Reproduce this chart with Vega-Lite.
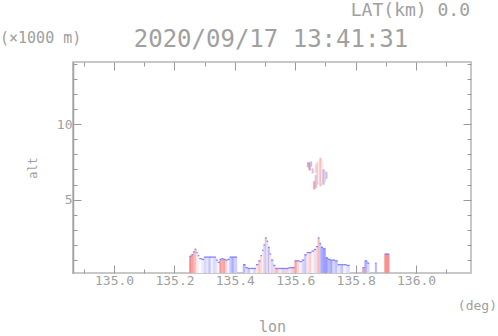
{
  "$schema": "https://vega.github.io/schema/vega-lite/v6.json",
  "width": 398,
  "height": 211,
  "autosize": {"type": "none"},
  "padding": {"left": 73, "top": 62, "right": 27, "bottom": 63},
  "background": "white",
  "config": {
    "view": {"stroke": "#c8c8c8", "strokeWidth": 2},
    "font": "DejaVu Sans Mono",
    "axis": {
      "labelFont": "DejaVu Sans Mono",
      "titleFont": "DejaVu Sans Mono",
      "labelColor": "#a0a0a0",
      "titleColor": "#a0a0a0",
      "tickColor": "#999999",
      "grid": false,
      "domain": false,
      "titleFontWeight": "normal"
    }
  },
  "datasets": {
    "low": [
      {"a": 135.250, "b": 135.256, "t": 1.25, "v": 0.85},
      {"a": 135.256, "b": 135.262, "t": 1.35, "v": 0.7},
      {"a": 135.262, "b": 135.267, "t": 1.55, "v": 0.6},
      {"a": 135.267, "b": 135.272, "t": 1.72, "v": 0.5},
      {"a": 135.272, "b": 135.277, "t": 1.5, "v": 0.2},
      {"a": 135.277, "b": 135.282, "t": 1.3, "v": -0.1},
      {"a": 135.282, "b": 135.290, "t": 1.1, "v": 0.05},
      {"a": 135.290, "b": 135.298, "t": 1.05, "v": -0.15},
      {"a": 135.298, "b": 135.305, "t": 1.2, "v": -0.3},
      {"a": 135.305, "b": 135.313, "t": 1.2, "v": -0.2},
      {"a": 135.313, "b": 135.321, "t": 1.2, "v": -0.4},
      {"a": 135.321, "b": 135.329, "t": 1.2, "v": -0.1},
      {"a": 135.329, "b": 135.337, "t": 1.2, "v": -0.3},
      {"a": 135.337, "b": 135.343, "t": 1.0, "v": -0.2},
      {"a": 135.343, "b": 135.350, "t": 0.85, "v": 0.1},
      {"a": 135.350, "b": 135.356, "t": 1.05, "v": 0.75},
      {"a": 135.356, "b": 135.362, "t": 1.1, "v": 0.55},
      {"a": 135.362, "b": 135.369, "t": 1.05, "v": 0.7},
      {"a": 135.369, "b": 135.376, "t": 1.0, "v": 0.3},
      {"a": 135.376, "b": 135.383, "t": 1.05, "v": -0.1},
      {"a": 135.383, "b": 135.390, "t": 1.2, "v": -0.4},
      {"a": 135.390, "b": 135.397, "t": 1.2, "v": -0.6},
      {"a": 135.397, "b": 135.407, "t": 1.2, "v": -0.35},
      {"a": 135.427, "b": 135.435, "t": 0.7, "v": -0.5},
      {"a": 135.435, "b": 135.443, "t": 0.5, "v": -0.2},
      {"a": 135.443, "b": 135.452, "t": 0.45, "v": -0.4},
      {"a": 135.452, "b": 135.461, "t": 0.45, "v": 0.1},
      {"a": 135.461, "b": 135.470, "t": 0.45, "v": -0.3},
      {"a": 135.470, "b": 135.478, "t": 0.7, "v": 0.2},
      {"a": 135.478, "b": 135.485, "t": 0.95, "v": 0.4},
      {"a": 135.485, "b": 135.490, "t": 1.3, "v": 0.3},
      {"a": 135.490, "b": 135.495, "t": 1.65, "v": 0.1},
      {"a": 135.495, "b": 135.500, "t": 2.0, "v": -0.3},
      {"a": 135.500, "b": 135.505, "t": 2.47, "v": 0.5},
      {"a": 135.505, "b": 135.510, "t": 2.25, "v": -0.2},
      {"a": 135.510, "b": 135.515, "t": 1.85, "v": -0.5},
      {"a": 135.515, "b": 135.520, "t": 1.4, "v": 0.2},
      {"a": 135.520, "b": 135.527, "t": 1.0, "v": -0.3},
      {"a": 135.527, "b": 135.534, "t": 0.65, "v": 0.3},
      {"a": 135.534, "b": 135.545, "t": 0.45, "v": 0.5},
      {"a": 135.545, "b": 135.556, "t": 0.45, "v": 0.2},
      {"a": 135.556, "b": 135.567, "t": 0.45, "v": -0.3},
      {"a": 135.567, "b": 135.578, "t": 0.45, "v": 0.35},
      {"a": 135.578, "b": 135.589, "t": 0.5, "v": -0.2},
      {"a": 135.589, "b": 135.598, "t": 0.5, "v": 0.4},
      {"a": 135.598, "b": 135.606, "t": 0.95, "v": 0.65},
      {"a": 135.606, "b": 135.614, "t": 0.95, "v": 0.3},
      {"a": 135.614, "b": 135.622, "t": 0.9, "v": 0.1},
      {"a": 135.622, "b": 135.630, "t": 1.0, "v": -0.3},
      {"a": 135.630, "b": 135.638, "t": 1.35, "v": -0.4},
      {"a": 135.638, "b": 135.646, "t": 1.5, "v": 0.2},
      {"a": 135.646, "b": 135.654, "t": 1.5, "v": 0.35},
      {"a": 135.654, "b": 135.662, "t": 1.6, "v": 0.1},
      {"a": 135.662, "b": 135.669, "t": 1.7, "v": -0.2},
      {"a": 135.669, "b": 135.675, "t": 1.9, "v": 0.3},
      {"a": 135.675, "b": 135.680, "t": 2.47, "v": 0.5},
      {"a": 135.680, "b": 135.685, "t": 2.1, "v": -0.4},
      {"a": 135.685, "b": 135.692, "t": 1.85, "v": -0.6},
      {"a": 135.692, "b": 135.700, "t": 1.75, "v": -0.7},
      {"a": 135.700, "b": 135.708, "t": 1.15, "v": -0.75},
      {"a": 135.708, "b": 135.716, "t": 1.05, "v": -0.5},
      {"a": 135.716, "b": 135.724, "t": 1.0, "v": -0.65},
      {"a": 135.724, "b": 135.732, "t": 1.0, "v": -0.3},
      {"a": 135.732, "b": 135.740, "t": 0.95, "v": -0.45},
      {"a": 135.740, "b": 135.750, "t": 0.7, "v": -0.2},
      {"a": 135.750, "b": 135.760, "t": 0.7, "v": -0.4},
      {"a": 135.760, "b": 135.770, "t": 0.7, "v": -0.1},
      {"a": 135.770, "b": 135.780, "t": 0.65, "v": -0.25},
      {"a": 135.823, "b": 135.830, "t": 0.5, "v": 0.7},
      {"a": 135.830, "b": 135.838, "t": 0.95, "v": -0.6},
      {"a": 135.838, "b": 135.845, "t": 0.8, "v": -0.3},
      {"a": 135.865, "b": 135.869, "t": 0.8, "v": -0.6},
      {"a": 135.896, "b": 135.911, "t": 1.4, "v": 0.8}
    ],
    "up": [
      {"a": 135.640, "b": 135.645, "z0": 7.15, "z1": 7.45, "v": -0.6},
      {"a": 135.645, "b": 135.650, "z0": 6.95, "z1": 7.45, "v": 0.8},
      {"a": 135.650, "b": 135.655, "z0": 7.2, "z1": 7.5, "v": -0.5},
      {"a": 135.655, "b": 135.660, "z0": 6.75, "z1": 7.05, "v": -0.4},
      {"a": 135.660, "b": 135.666, "z0": 5.7, "z1": 6.2, "v": 0.7},
      {"a": 135.666, "b": 135.671, "z0": 5.8, "z1": 6.6, "v": -0.5},
      {"a": 135.666, "b": 135.671, "z0": 6.8, "z1": 7.3, "v": 0.35},
      {"a": 135.671, "b": 135.676, "z0": 6.0, "z1": 7.45, "v": 0.45},
      {"a": 135.676, "b": 135.681, "z0": 6.2, "z1": 7.6, "v": 0.1},
      {"a": 135.681, "b": 135.686, "z0": 5.9, "z1": 7.75, "v": 0.5},
      {"a": 135.686, "b": 135.691, "z0": 6.1, "z1": 7.5, "v": 0.2},
      {"a": 135.691, "b": 135.696, "z0": 6.0, "z1": 7.0, "v": -0.5},
      {"a": 135.696, "b": 135.701, "z0": 6.2, "z1": 6.9, "v": 0.4},
      {"a": 135.701, "b": 135.706, "z0": 6.4, "z1": 6.8, "v": -0.45}
    ]
  },
  "resolve": {"axis": {"x": "independent", "y": "independent"}},
  "layer": [
    {
      "data": {"name": "low"},
      "mark": {"type": "rect", "clip": true, "strokeWidth": 0.6},
      "encoding": {
        "x": {
          "field": "a", "type": "quantitative",
          "scale": {"domain": [134.864, 136.182], "nice": false, "zero": false},
          "axis": {
            "orient": "bottom",
            "values": [134.9, 135.0, 135.1, 135.2, 135.3, 135.4, 135.5, 135.6, 135.7, 135.8, 135.9, 136.0, 136.1],
            "labelExpr": "round(datum.value*10) % 2 == 0 ? format(datum.value, '.1f') : ''",
            "tickSize": {"condition": {"test": "round(datum.value*10) % 2 == 0", "value": -8}, "value": -4},
            "labelFontSize": 13,
            "labelBaseline": "alphabetic",
            "labelPadding": 19,
            "title": "lon",
            "titleFontSize": 15,
            "titleBaseline": "alphabetic",
            "titleY": 58
          }
        },
        "x2": {"field": "b"},
        "y": {
          "field": "t", "type": "quantitative",
          "scale": {"domain": [0.15, 14.1], "nice": false, "zero": false},
          "axis": {
            "orient": "left",
            "values": [1, 2, 3, 4, 5, 6, 7, 8, 9, 10, 11, 12, 13, 14],
            "labelExpr": "datum.value % 5 == 0 ? datum.label : ''",
            "tickSize": {"condition": {"test": "datum.value % 5 == 0", "value": -8}, "value": -4},
            "labelFontSize": 13,
            "labelPadding": 9,
            "domain": true,
            "domainColor": "#a0a0a0",
            "domainWidth": 1.5,
            "title": "alt",
            "titleFontSize": 12,
            "titleBaseline": "alphabetic",
            "titleX": -37
          }
        },
        "y2": {"datum": 0},
        "color": {
          "field": "v", "type": "quantitative",
          "scale": {"domain": [-1.4, 0, 1.4], "range": ["#4040ff", "#ffffff", "#f04040"], "interpolate": "rgb"},
          "legend": null
        },
        "stroke": {
          "field": "v", "type": "quantitative",
          "scale": {"domain": [-1.4, 0, 1.4], "range": ["#4040ff", "#ffffff", "#f04040"], "interpolate": "rgb"},
          "legend": null
        }
      }
    },
    {
      "data": {"name": "low"},
      "mark": {"type": "rule", "color": "#8080ff", "strokeWidth": 1.3},
      "encoding": {
        "x": {"field": "a", "type": "quantitative", "axis": null},
        "x2": {"field": "b"},
        "y": {"field": "t", "type": "quantitative", "axis": null}
      }
    },
    {
      "data": {"name": "up"},
      "mark": {"type": "rect", "strokeWidth": 0.6},
      "encoding": {
        "x": {
          "field": "a", "type": "quantitative",
          "axis": {
            "orient": "top",
            "values": [134.9, 135.0, 135.1, 135.2, 135.3, 135.4, 135.5, 135.6, 135.7, 135.8, 135.9, 136.0, 136.1],
            "labels": false,
            "tickSize": {"condition": {"test": "round(datum.value*10) % 2 == 0", "value": -8}, "value": -4},
            "title": null
          }
        },
        "x2": {"field": "b"},
        "y": {
          "field": "z0", "type": "quantitative",
          "axis": {
            "orient": "right",
            "values": [1, 2, 3, 4, 5, 6, 7, 8, 9, 10, 11, 12, 13, 14],
            "labels": false,
            "tickSize": {"condition": {"test": "datum.value % 5 == 0", "value": -8}, "value": -4},
            "title": null
          }
        },
        "y2": {"field": "z1"},
        "color": {"field": "v", "type": "quantitative", "legend": null},
        "stroke": {"field": "v", "type": "quantitative", "legend": null}
      }
    },
    {
      "data": {"values": [{}]},
      "mark": {"type": "text", "text": "2020/09/17 13:41:31", "x": 198, "y": -15, "align": "center", "baseline": "alphabetic", "fontSize": 24, "font": "DejaVu Sans Mono", "color": "#a0a0a0"}
    },
    {
      "data": {"values": [{}]},
      "mark": {"type": "text", "text": "LAT(km) 0.0", "x": 397, "y": -46, "align": "right", "baseline": "alphabetic", "fontSize": 18, "font": "DejaVu Sans Mono", "color": "#a0a0a0"}
    },
    {
      "data": {"values": [{}]},
      "mark": {"type": "text", "text": "(×1000 m)", "x": -73, "y": -19, "align": "left", "baseline": "alphabetic", "fontSize": 15, "font": "DejaVu Sans Mono", "color": "#a0a0a0"}
    },
    {
      "data": {"values": [{}]},
      "mark": {"type": "text", "text": "(deg)", "x": 424, "y": 248, "align": "right", "baseline": "alphabetic", "fontSize": 13, "font": "DejaVu Sans Mono", "color": "#a0a0a0"}
    }
  ]
}
